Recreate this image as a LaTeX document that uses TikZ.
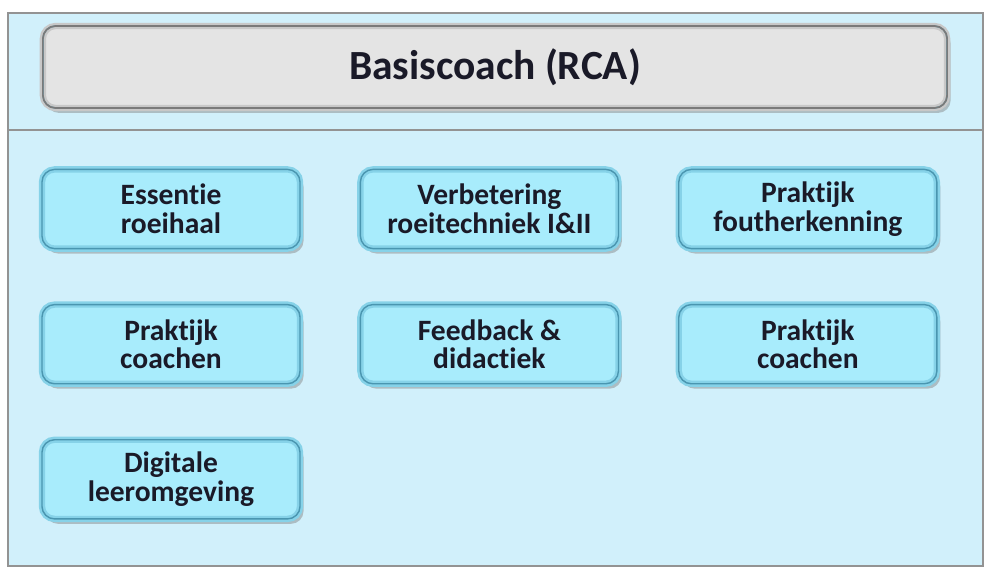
\documentclass[tikz,border=0pt]{standalone}
\usepackage{fontspec}
\setmainfont{Carlito}[Ligatures=NoCommon, Contextuals=NoAlternate, RawFeature=-liga]
\usetikzlibrary{positioning,shadows}
\definecolor{panel}{HTML}{D1F0FB}
\definecolor{frame}{HTML}{939393}
\definecolor{boxfill}{HTML}{A8ECFC}
\definecolor{boxedge}{HTML}{86D2E8}
\definecolor{boxdark}{HTML}{4A96B0}
\definecolor{hdfill}{HTML}{E4E4E4}
\definecolor{hdedge}{HTML}{C8C8C8}
\definecolor{hddark}{HTML}{7A7A7A}
\definecolor{ink}{HTML}{1A1A28}
\begin{document}
\begin{tikzpicture}[x=0.025cm, y=-0.025cm,
  course/.style={draw=boxedge, line width=4.5pt, rounded corners=9pt, fill=boxfill, align=center,
    minimum width=6.45cm, minimum height=1.98cm, inner sep=0pt, text=ink, font=\fontsize{21}{20.5}\selectfont\bfseries,
    drop shadow={opacity=0.45, shadow xshift=2.5pt, shadow yshift=-3.5pt},
    postaction={draw=boxdark, line width=1pt}},
  header/.style={course, draw=hdedge, fill=hdfill, minimum width=22.6cm, minimum height=2.05cm,
    font=\fontsize{29.5}{30}\selectfont\bfseries, postaction={draw=hddark, line width=1.2pt}},
  node distance=1.24cm and 1.35cm]
\useasboundingbox (0,0) rectangle (990,574);
\draw[frame, line width=1.2pt, fill=panel] (8,13) rectangle (983,566);
\draw[frame, line width=1.2pt] (8,130) -- (983,130);
\node[header] (title) at (495,67) {Basiscoach (RCA)};
\node[course] (ess) at (171,209) {Essentie\\roeihaal};
\node[course, right=of ess] (verb) {Verbetering\\roeitechniek I\&II};
\node[course, right=of verb] (fout) {Praktijk\\foutherkenning};
\node[course, below=of ess] (coach1) {Praktijk\\coachen};
\node[course, right=of coach1] (feed) {Feedback \&\\didactiek};
\node[course, right=of feed] (coach2) {Praktijk\\coachen};
\node[course, below=of coach1] (digi) {Digitale\\leeromgeving};
\end{tikzpicture}
\end{document}
